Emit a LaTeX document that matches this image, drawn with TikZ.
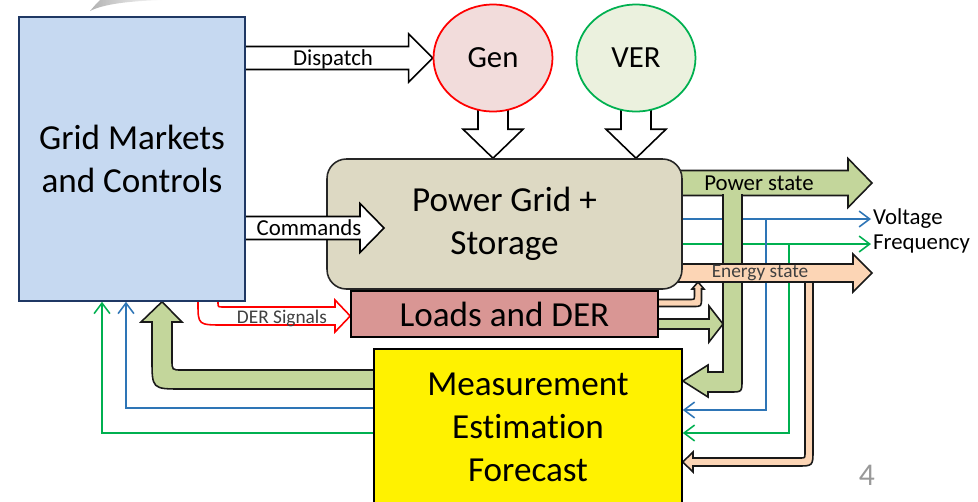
\documentclass[tikz,border=0pt]{standalone}
\usepackage{fontspec}
\setmainfont{Carlito}[Ligatures=NoCommon]
\usetikzlibrary{shapes.geometric,arrows.meta,calc,fadings}

\definecolor{gmcfill}{HTML}{C6D9F1}
\definecolor{gmcline}{HTML}{1F3864}
\definecolor{genfill}{HTML}{F2DCDB}
\definecolor{verfill}{HTML}{EBF1DE}
\definecolor{vergreen}{HTML}{00B050}
\definecolor{gridfill}{HTML}{DDD9C3}
\definecolor{loadfill}{HTML}{D99694}
\definecolor{grnfill}{HTML}{C3D69B}
\definecolor{peach}{HTML}{FCD5B5}
\definecolor{sigblue}{HTML}{2E75B6}
\definecolor{darktext}{HTML}{404040}

\newcommand\boxfont{\fontsize{20}{24.5}\selectfont}
\newcommand\circfont{\fontsize{17.5}{20}\selectfont}
\newcommand\arrfont{\fontsize{13}{15}\selectfont}
\newcommand\smallarrfont{\fontsize{11}{13}\selectfont}

\pgfdeclarelayer{back}
\pgfdeclarelayer{front}
\pgfsetlayers{back,main,front}

\tikzfading[name=fadeout, left color=transparent!0, right color=transparent!100]

% block arrow to the right: [style]{from}{tip}{shaft half}{head half}{head length}
\newcommand\harrow[6][]{%
  \path (#3) coordinate (ht);
  \path (#2 |- ht) coordinate (hs);
  \filldraw[#1] ($(hs)+(0,-#4)$) -- ($(ht)+(-#6,-#4)$) -- ($(ht)+(-#6,-#5)$) -- (ht)
    -- ($(ht)+(-#6,#5)$) -- ($(ht)+(-#6,#4)$) -- ($(hs)+(0,#4)$);}

% block arrow downwards, same arguments
\newcommand\varrow[6][]{%
  \path (#3) coordinate (vt);
  \path (#2 -| vt) coordinate (vs);
  \filldraw[#1] ($(vs)+(-#4,0)$) -- ($(vt)+(-#4,-#6)$) -- ($(vt)+(-#5,-#6)$) -- (vt)
    -- ($(vt)+(#5,-#6)$) -- ($(vt)+(#4,-#6)$) -- ($(vs)+(#4,0)$);}

\begin{document}
\begin{tikzpicture}[x=0.02cm, y=-0.02cm,
    box/.style={draw, line width=0.9pt, align=center, font=\boxfont, inner sep=0pt},
    blob/.style={ellipse, draw, line width=1pt, minimum width=2.38cm,
        minimum height=2.14cm, inner sep=0pt, font=\circfont},
    hollow/.style={draw=black, fill=white, line width=0.9pt},
    redhollow/.style={draw=red, fill=white, line width=0.9pt},
    greenblock/.style={draw=black!90, fill=grnfill, line width=0.9pt},
    peachblock/.style={draw=black!90, fill=peach, line width=0.9pt},
    sig/.style={line width=0.9pt, -{Straight Barb[length=6pt,width=9pt]}},
    lab/.style={font=\arrfont, inner sep=1pt},
    smalllab/.style={font=\smallarrfont, text=darktext, inner sep=1pt}]

    \useasboundingbox (0,0) rectangle (978,501);

    % slide swoosh at the top edge
    \fill[black!30, path fading=fadeout] (90,11) .. controls (104,4) and (128,1) .. (165,0)
        -- (100,0) .. controls (96,4) .. (90,11);

    % boxes
    \begin{pgfonlayer}{front}
        \node[box, draw=gmcline, fill=gmcfill, minimum width=4.52cm, minimum height=5.68cm]
            (gmc) at (132,159) {Grid Markets\\and Controls};
    \end{pgfonlayer}
    \node[blob, draw=red, fill=genfill] (gen) at (493,58) {Gen};
    \node[blob, draw=vergreen, fill=verfill] (ver) at (636,58) {VER};
    \node[box, fill=loadfill, minimum width=6.14cm, minimum height=0.92cm]
        (der) at (504.5,314) {Loads and DER};
    \node[box, draw=black!85, fill=gridfill, rounded corners=11pt, minimum width=7.1cm,
        minimum height=2.6cm] (pgs) at (504.5,224) {Power Grid +\\Storage};
    \node[box, fill=yellow, minimum width=6.16cm, minimum height=3.12cm]
        (mef) at (528,427) {Measurement\\Estimation\\Forecast};

    % labels
    \node[lab] (dtext) at (333,59) {Dispatch};
    \node[smalllab] (stext) at (282,318) {DER Signals};
    \node[lab] (ptext) at (759,183) {Power state};
    \node[smalllab] (etext) at (760,273) {Energy state};
    \node[lab, anchor=west] (volt) at (871,219) {Voltage};
    \node[lab, anchor=west] (freq) at (871,244) {Frequency};
    \node[font=\fontsize{18}{20}\selectfont, text=black!40] (pnum) at (867,475) {4};

    \begin{pgfonlayer}{back}
        % measured signals
        \draw[sig, sigblue] (pgs.center |- volt) -- (volt.west);
        \draw[sig, vergreen] (pgs.center |- freq) -- (freq.west);
        \draw[sig, sigblue] (766,0 |- volt) -- (766,410) -- (mef.east |- 0,410);
        \draw[sig, vergreen] (789,0 |- freq) -- (789,433) -- (mef.east |- 0,433);
        \draw[sig, sigblue] (mef.center |- 0,408) -- (126,408) -- (126,0 |- gmc.south);
        \draw[sig, vergreen] (mef.center |- 0,433) -- (102,433) -- (102,0 |- gmc.south);

        % states out of the grid
        \harrow[greenblock]{pgs.center}{872,183}{12.5}{24.5}{24}
        \filldraw[greenblock] (742,194) -- (742,380) .. controls (742,392) .. (730,392)
            -- (708,392) -- (708,397) -- (mef.east |- 0,381) -- (708,365) -- (708,372)
            -- (723,372) -- (723,194);
        \filldraw[peachblock] (813,273) -- (813,450) .. controls (813,466) .. (797,466)
            -- (693,466) -- (693,472) -- (mef.east |- 0,462) -- (693,452) -- (693,458)
            -- (800,458) .. controls (805,458) .. (805,453) -- (805,273);
        \harrow[peachblock]{pgs.center}{872,273}{9}{19}{19}
        \filldraw[peachblock] (der.center |- 0,299.5) -- (690,299.5)
            .. controls (694.5,299.5) .. (694.5,295) -- (694.5,289) -- (692,289)
            -- (698,282) -- (704,289) -- (701.5,289) -- (701.5,298)
            .. controls (701.5,306.5) .. (693,306.5) -- (der.center |- 0,306.5);
        \harrow[greenblock]{der.center}{723,324}{5}{18}{14}

        % into the grid
        \harrow[hollow]{gmc.center}{gen.west}{11.5}{24}{24}
        \varrow[hollow]{gen.center}{gen.south |- pgs.north}{15}{30}{29}
        \varrow[hollow]{ver.center}{ver.south |- pgs.north}{15}{30}{29}
        \filldraw[redhollow] (218,295) -- (218,303) .. controls (218,307) .. (224,307)
            -- (335,307) -- (335,300) -- (der.west |- 0,316) -- (335,332) -- (335,325)
            -- (224,325) .. controls (198,325) .. (198,303) -- (198,295);

        % estimates back to the markets
        \filldraw[greenblock] (mef.center |- 0,370) -- (182,370) .. controls (172,370) .. (172,360)
            -- (172,322) -- (182,322) -- (162,0 |- gmc.south) -- (141,322) -- (152,322)
            -- (152,359) .. controls (152,389) .. (182,389) -- (mef.center |- 0,389);
    \end{pgfonlayer}

    \harrow[hollow]{gmc.center}{384,228}{11.5}{24.5}{24}
    \node[lab] (ctext) at (309,228) {Commands};
\end{tikzpicture}
\end{document}
